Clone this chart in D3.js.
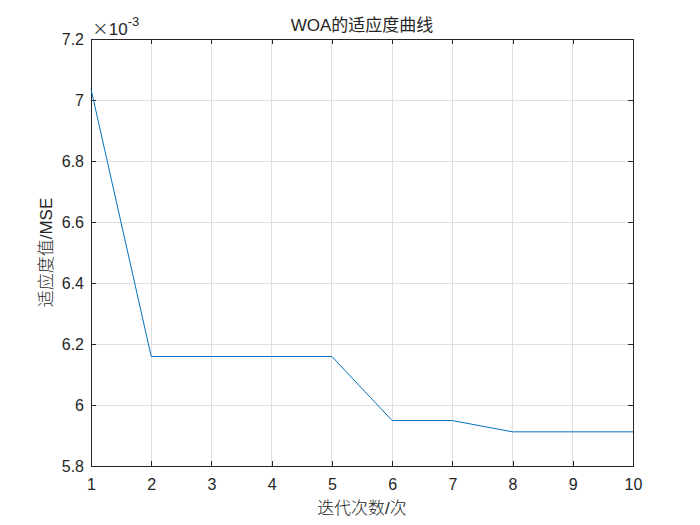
<!DOCTYPE html>
<html><head><meta charset="utf-8">
<script src="https://cdn.jsdelivr.net/npm/d3@7"></script>
<style>body{margin:0;background:#fff}svg{display:block}text{font-family:"Liberation Sans","Noto Sans CJK SC",Arial,sans-serif;fill:#262626}</style>
</head><body>
<svg id="c" width="700" height="525"></svg>
<script>
const iterations = [1,2,3,4,5,6,7,8,9,10];
const fitness = [7.036,6.159,6.159,6.159,6.159,5.949,5.949,5.912,5.912,5.912]; // x1e-3
const xTicks = [1,2,3,4,5,6,7,8,9,10];
const yTicks = [5.8,6,6.2,6.4,6.6,6.8,7,7.2];
const title = "WOA的适应度曲线";
const xLabel = "迭代次数/次";
const yLabel = "适应度值/MSE";

const svg = d3.select("#c");
const L=91,R=633,T=39,B=466;
const x = d3.scaleLinear().domain([1,10]).range([L,R]);
const y = d3.scaleLinear().domain([5.8,7.2]).range([B,T]);
const grid = svg.append("g");
xTicks.forEach(t=>grid.append("line").attr("x1",x(t)).attr("x2",x(t)).attr("y1",T).attr("y2",B).attr("stroke","#dfdfdf").attr("stroke-width",1).attr("shape-rendering","crispEdges"));
yTicks.forEach(t=>grid.append("line").attr("y1",y(t)).attr("y2",y(t)).attr("x1",L).attr("x2",R).attr("stroke","#dfdfdf").attr("stroke-width",1).attr("shape-rendering","crispEdges"));

const fmt = d=>d3.format("")(+d.toFixed(1));
const xa = svg.append("g").attr("transform",`translate(0,${B})`).call(d3.axisBottom(x).tickValues(xTicks).tickSize(-5).tickSizeOuter(0).tickPadding(13));
const xa2 = svg.append("g").attr("transform",`translate(0,${T})`).call(d3.axisTop(x).tickValues(xTicks).tickSize(-5).tickSizeOuter(0).tickFormat(""));
const ya = svg.append("g").attr("transform",`translate(${L},0)`).call(d3.axisLeft(y).tickValues(yTicks).tickSize(-5).tickSizeOuter(0).tickPadding(7).tickFormat(fmt));
const ya2 = svg.append("g").attr("transform",`translate(${R},0)`).call(d3.axisRight(y).tickValues(yTicks).tickSize(-5).tickSizeOuter(0).tickFormat(""));
[xa,xa2,ya,ya2].forEach(g=>{g.selectAll("path").attr("stroke","#262626").attr("shape-rendering","crispEdges");g.selectAll("line").attr("stroke","#262626").attr("shape-rendering","crispEdges");g.selectAll("text").attr("font-size",16).style("fill","#262626").attr("font-family","Liberation Sans, Arial, sans-serif");});

svg.append("path").datum(iterations.map((d,i)=>[d,fitness[i]]))
 .attr("d",d3.line().x(d=>x(d[0])).y(d=>y(d[1])))
 .attr("fill","none").attr("stroke","#0072BD").attr("stroke-width",1);

svg.append("text").attr("x",(L+R)/2).attr("y",31).attr("text-anchor","middle").attr("font-size",17).text(title);
svg.append("text").attr("x",(L+R)/2).attr("y",514).attr("text-anchor","middle").attr("font-size",17).attr("font-weight",300).attr("font-family","Noto Sans CJK SC, Liberation Sans, sans-serif").text(xLabel);
svg.append("text").attr("transform",`translate(52,${(T+B)/2}) rotate(-90)`).attr("text-anchor","middle").attr("font-size",17).attr("font-weight",300).attr("font-family","Noto Sans CJK SC, Liberation Sans, sans-serif").text(yLabel);
const ex = svg.append("text").attr("x",92).attr("y",35).attr("font-size",17);
ex.append("tspan").attr("font-size",20).attr("font-weight",300).attr("font-family","DejaVu Sans, sans-serif").text("×");
ex.append("tspan").text("10");
ex.append("tspan").attr("dy",-9).attr("font-size",13).text("-3");
</script>
</body></html>
